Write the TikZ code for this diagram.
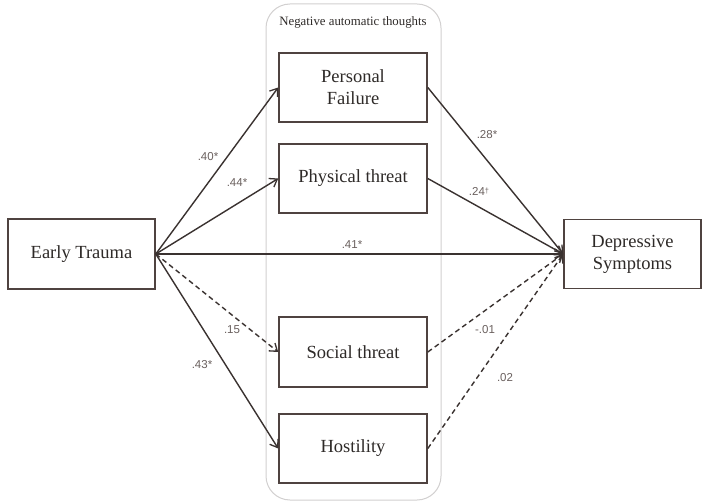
\documentclass[tikz,border=0pt]{standalone}
\usepackage{fontspec}
\setmainfont{Liberation Serif}
\newfontfamily\labfont{Liberation Sans}
\usetikzlibrary{arrows.meta}
\definecolor{boxc}{HTML}{4F4340}
\definecolor{linec}{HTML}{3A3230}
\definecolor{txtc}{HTML}{2E2A28}
\definecolor{labc}{HTML}{6A605E}
\definecolor{groupc}{HTML}{D2D0D0}
\tikzset{
  varbox/.style={draw=boxc, line width=1.6pt, rectangle, inner sep=0pt, text=txtc,
    font=\fontsize{18.5}{22}\selectfont, align=center},
  midbox/.style={varbox, minimum width=148pt, minimum height=69pt},
  path/.style={draw=linec, line width=1.4pt, -{Straight Barb[length=7pt,width=10pt,line width=1.3pt]}},
  npath/.style={path, dash pattern=on 5pt off 3.5pt},
  coef/.style={text=labc, font=\labfont\fontsize{11.5}{13}\selectfont, inner sep=1pt},
}
\begin{document}
\begin{tikzpicture}[x=1pt,y=-1pt]
\useasboundingbox (0,0) rectangle (703,502);
\fill[white] (0,0) rectangle (703,502);
% group frame
\draw[groupc, line width=1pt, rounded corners=24pt] (266,4) rectangle (441,500);
\node[text=txtc, font=\fontsize{12.8}{14}\selectfont] (title) at (353,22) {Negative automatic thoughts};
% nodes
\node[varbox, minimum width=147pt, minimum height=70pt] (et) at (81.5,254) {Early Trauma};
\node[varbox, minimum width=137pt, minimum height=69pt] (ds) at (632.5,254) {Depressive\\Symptoms};
\node[midbox] (pf) at (353,87.5) {Personal\\Failure};
\node[midbox] (pt) at (353,178.5) {Physical threat};
\node[midbox, minimum height=70pt] (st) at (353,352) {Social threat};
\node[midbox] (ho) at (353,448.5) {Hostility};
% paths
\draw[path] (et.east) -- (pf.west);
\draw[path] (et.east) -- (pt.west);
\draw[npath] (et.east) -- (st.west);
\draw[path] (et.east) -- (ho.west);
\draw[path] (et.east) -- (ds.west);
\draw[path] (pf.east) -- (ds.west);
\draw[path] (pt.east) -- (ds.west);
\draw[npath] (st.east) -- (ds.west);
\draw[npath] (ho.east) -- (ds.west);
% coefficients
\node[coef] (c1) at (208,157) {.40*};
\node[coef] (c2) at (237,183) {.44*};
\node[coef] (c3) at (352,245) {.41*};
\node[coef] (c4) at (232,330) {.15};
\node[coef] (c5) at (202,365) {.43*};
\node[coef] (c6) at (487,135) {.28*};
\node[coef] (c7) at (479,191) {.24\raisebox{2pt}{\fontsize{7.5}{8}\selectfont †}};
\node[coef] (c8) at (485,330) {-.01};
\node[coef] (c9) at (505,378) {.02};
\end{tikzpicture}
\end{document}
